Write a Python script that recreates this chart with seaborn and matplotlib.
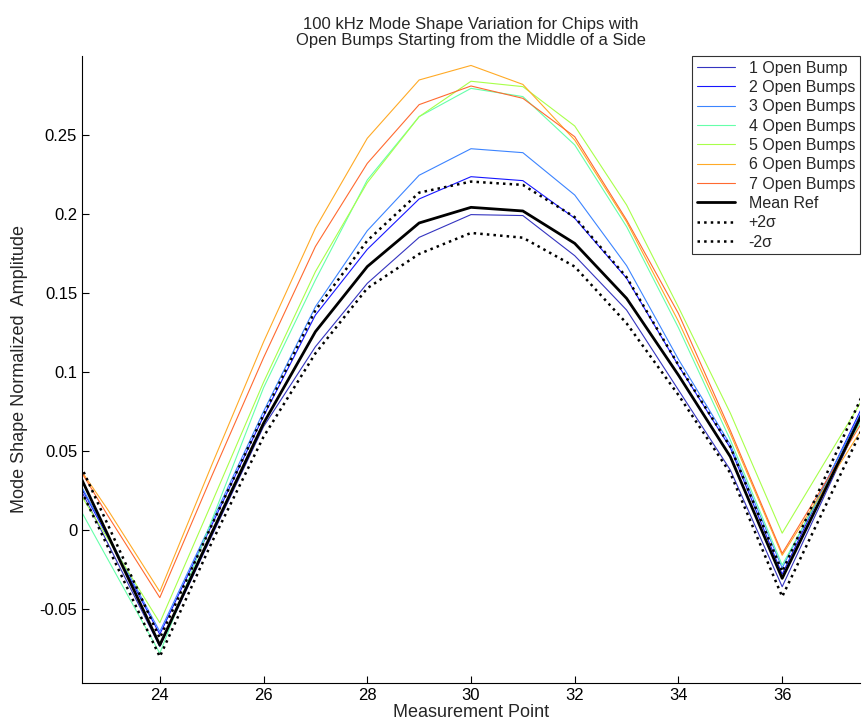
import matplotlib
matplotlib.use("Agg")
import matplotlib.pyplot as plt
import seaborn as sns
import pandas as pd

x_points = list(range(22, 39))

bump1 = [0.0566, -0.0086, -0.0738, -0.004, 0.0654, 0.116, 0.1561, 0.1852, 0.1996, 0.1990, 0.1736, 0.1392, 0.0886, 0.038, -0.0359, 0.0347, 0.1053]
bump2 = [0.0567, -0.0047, -0.066, 0.003, 0.072, 0.136, 0.1776, 0.2095, 0.2236, 0.2211, 0.1973, 0.1593, 0.104, 0.052, -0.028, 0.0407, 0.1093]
bump3 = [0.0574, -0.0034, -0.0643, 0.005, 0.075, 0.1413, 0.1894, 0.2245, 0.2413, 0.2388, 0.212, 0.1673, 0.108, 0.054, -0.024, 0.0407, 0.1053]
bump4 = [0.0407, -0.0187, -0.078, 0.006, 0.090, 0.1582, 0.2215, 0.2616, 0.2795, 0.2743, 0.2437, 0.192, 0.128, 0.057, -0.0222, 0.0379, 0.098]
bump5 = [0.0476, -0.0056, -0.0587, 0.017, 0.0935, 0.1635, 0.2198, 0.2616, 0.284, 0.2806, 0.2557, 0.2057, 0.141, 0.074, -0.002, 0.0527, 0.1073]
bump6 = [0.061, 0.0127, -0.039, 0.041, 0.119, 0.191, 0.2479, 0.2848, 0.294, 0.282, 0.2468, 0.195, 0.132, 0.061, -0.016, 0.036, 0.088]
bump7 = [0.063, 0.009, -0.0428, 0.034, 0.109, 0.1794, 0.232, 0.2692, 0.281, 0.2732, 0.2489, 0.1962, 0.137, 0.063, -0.0148, 0.0391, 0.093]
mean_ref = [0.0664, -0.0032, -0.0728, -0.002, 0.0675, 0.1255, 0.1667, 0.1943, 0.2042, 0.2019, 0.1814, 0.1466, 0.098, 0.0464, -0.0306, 0.0371, 0.1048]
plus2s = [0.0748, 0.0032, -0.0685, 0.003, 0.0728, 0.139, 0.1831, 0.2135, 0.2205, 0.2184, 0.198, 0.160, 0.1044, 0.0527, -0.0264, 0.0459, 0.1182]
minus2s = [0.0588, -0.0108, -0.0802, -0.008, 0.059, 0.1118, 0.153, 0.1747, 0.188, 0.185, 0.1667, 0.1308, 0.0854, 0.036, -0.0422, 0.0266, 0.0954]

labels = ["1 Open Bump", "2 Open Bumps", "3 Open Bumps", "4 Open Bumps",
          "5 Open Bumps", "6 Open Bumps", "7 Open Bumps", "Mean Ref",
          "+2σ", "-2σ"]
series = [bump1, bump2, bump3, bump4, bump5, bump6, bump7, mean_ref, plus2s, minus2s]

colors = ["#3434c0", "#1616ff", "#3c84ff", "#66ffaa", "#a8ff4a",
          "#ffaa26", "#ff6a30", "black", "black", "black"]
widths = [0.8, 0.8, 0.8, 0.8, 0.8, 0.8, 0.8, 2.0, 1.8, 1.8]
styles = ["-"] * 8 + [":", ":"]

sns.set_style("white")
plt.rcParams["font.family"] = ["Liberation Sans", "DejaVu Sans"]

fig = plt.figure(figsize=(8.65, 7.25), dpi=100)
ax = fig.add_axes([0.0948, 0.058, 0.8994, 0.8648])

for lab, vals, c, w, s in zip(labels, series, colors, widths, styles):
    df = pd.DataFrame({"x": x_points, "y": vals})
    sns.lineplot(data=df, x="x", y="y", ax=ax, color=c, linewidth=w,
                 linestyle=s, label=lab, errorbar=None)

ax.set_xlim(22.5, 37.5)
ax.set_ylim(-0.0968, 0.300)
ax.set_xticks([24, 26, 28, 30, 32, 34, 36])
ax.set_yticks([-0.05, 0, 0.05, 0.1, 0.15, 0.2, 0.25])
ax.set_yticklabels(["-0.05", "0", "0.05", "0.1", "0.15", "0.2", "0.25"])
ax.tick_params(direction="in", length=5, width=0.8, labelsize=12, colors="black",
               left=True, bottom=True)
for side in ["top", "right"]:
    ax.spines[side].set_visible(False)
for side in ["left", "bottom"]:
    ax.spines[side].set_color("black")
    ax.spines[side].set_linewidth(0.8)

ax.set_xlabel("Measurement Point", fontsize=13, labelpad=1)
ax.set_ylabel("Mode Shape Normalized  Amplitude", fontsize=13, labelpad=8)
ax.set_title("100 kHz Mode Shape Variation for Chips with\nOpen Bumps Starting from the Middle of a Side",
             fontsize=12, pad=8, linespacing=1.1)

leg = ax.legend(loc="upper right", bbox_to_anchor=(1.0, 1.0), fontsize=11.5,
                frameon=True, fancybox=False, edgecolor="black",
                handlelength=2.4, borderpad=0.3, labelspacing=0.27,
                handletextpad=0.85, borderaxespad=0.0)
leg.get_frame().set_linewidth(0.8)

fig.savefig("out.png", dpi=100, facecolor="white")
